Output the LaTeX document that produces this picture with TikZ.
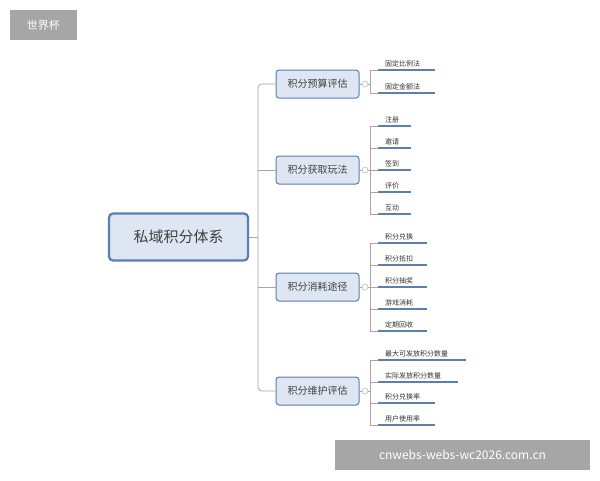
\documentclass[tikz,border=0pt]{standalone}
\usepackage{fontspec}
\setmainfont{Noto Sans CJK SC}
\begin{document}
\begin{tikzpicture}[x=1pt,y=-1pt,
  rootbox/.style={draw=rootb,line width=2.2pt,fill=boxf,rounded corners=4pt,minimum width=139pt,minimum height=47pt,font=\fontsize{15}{17}\selectfont,text=black!75},
  midbox/.style={draw=rootb,line width=1pt,fill=boxf,rounded corners=3pt,minimum width=83pt,minimum height=28pt,font=\fontsize{10}{12}\selectfont,text=black!75},
  leaf/.style={anchor=south west,inner sep=1pt,font=\fontsize{7}{8}\selectfont,text=black!80},
  uline/.style={draw=rootb,line width=1.4pt},
  conn/.style={draw=gray!70,line width=0.8pt},
  tag/.style={fill=gray!70,text=white,inner sep=0pt}]
\definecolor{rootb}{HTML}{5B7FB0}
\definecolor{boxf}{HTML}{DDE6F2}
\useasboundingbox (0,0) rectangle (600,480);
\fill[white] (0,0) rectangle (600,480);
\node[tag,minimum width=67pt,minimum height=30pt,font=\fontsize{11}{13}\selectfont] (t1) at (43.5,25) {世界杯};
\node[rootbox] (root) at (178.5,237) {私域积分体系};
\node[midbox] (b1) at (317.5,84) {积分预算评估};
\node[midbox] (b2) at (317.5,170) {积分获取玩法};
\node[midbox] (b3) at (317.5,287) {积分消耗途径};
\node[midbox] (b4) at (317.5,391) {积分维护评估};
\coordinate (tr) at (258,237);
\draw[conn] (root.east) -- (tr);
\draw[conn,rounded corners=4pt] (b1.west) -- (258,84) -- (258,391) -- (b4.west);
\draw[conn] (b2.west) -- (258,170);
\draw[conn] (b3.west) -- (258,287);
% leaves
\foreach \b/\y/\items in {b1/84/{固定比例法/70/435,固定金额法/93/435},
  b2/170/{注册/126/411,邀请/148/411,签到/170/411,评价/192/411,互动/214/411},
  b3/287/{积分兑换/243/427,积分抵扣/265/427,积分抽奖/287/427,游戏消耗/309/427,定期回收/331/427},
  b4/391/{最大可发放积分数量/360/466,实际发放积分数量/382/458,积分兑换率/403/435,用户使用率/425/435}}{
  \draw[conn] (\b.east) -- (362,\y);
  \node[draw=gray!70,fill=white,circle,inner sep=0pt,minimum size=6pt] (c\b) at (365,\y) {};
  \draw[conn] (c\b.east) -- (370,\y);
  \foreach \t/\u/\e [count=\i] in \items {
    \draw[conn] (370,\u) -- (378,\u);
    \draw[uline] (378,\u) -- (\e,\u);
    \node[leaf] (l\b\i) at (384,\u-2) {\t};
  }
}
\draw[conn] (370,70) -- (370,93);
\draw[conn] (370,126) -- (370,214);
\draw[conn] (370,243) -- (370,331);
\draw[conn] (370,360) -- (370,425);
\node[tag,minimum width=255pt,minimum height=30pt,font=\fontsize{12}{14}\selectfont] (t2) at (462.5,455) {cnwebs-webs-wc2026.com.cn};
\end{tikzpicture}
\end{document}
